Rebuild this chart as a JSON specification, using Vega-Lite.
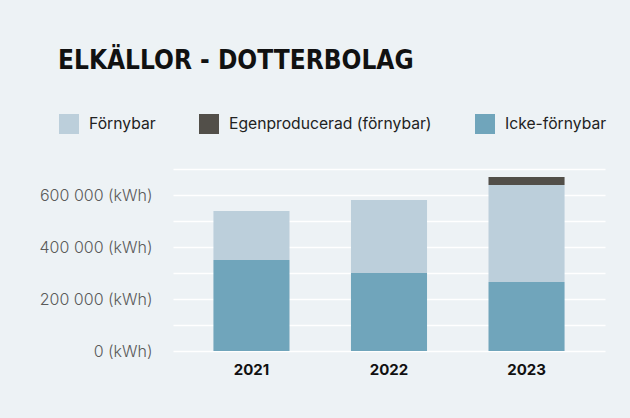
{
  "$schema": "https://vega.github.io/schema/vega-lite/v6.json",
  "width": 432,
  "height": 182,
  "autosize": "none",
  "padding": {"left": 173, "top": 169, "right": 25, "bottom": 67},
  "background": "#edf2f5",
  "title": {
    "text": "ELKÄLLOR - DOTTERBOLAG",
    "anchor": "start",
    "frame": "group",
    "orient": "top",
    "dx": -115,
    "offset": 40,
    "font": "DejaVu Sans Condensed, DejaVu Sans, sans-serif",
    "fontSize": 26,
    "fontWeight": "bold",
    "color": "#111111"
  },
  "data": {
    "values": [
      {"year": "2021", "type": "Icke-förnybar", "value": 350000, "ord": 1},
      {"year": "2021", "type": "Förnybar", "value": 188000, "ord": 2},
      {"year": "2021", "type": "Egenproducerad (förnybar)", "value": 0, "ord": 3},
      {"year": "2022", "type": "Icke-förnybar", "value": 300000, "ord": 1},
      {"year": "2022", "type": "Förnybar", "value": 281000, "ord": 2},
      {"year": "2022", "type": "Egenproducerad (förnybar)", "value": 0, "ord": 3},
      {"year": "2023", "type": "Icke-förnybar", "value": 265000, "ord": 1},
      {"year": "2023", "type": "Förnybar", "value": 373000, "ord": 2},
      {"year": "2023", "type": "Egenproducerad (förnybar)", "value": 31000, "ord": 3}
    ]
  },
  "mark": {"type": "bar"},
  "encoding": {
    "x": {
      "field": "year",
      "type": "nominal",
      "scale": {"paddingInner": 0.447, "paddingOuter": 0.294},
      "axis": {
        "title": null,
        "labelAngle": 0,
        "domain": false,
        "ticks": false,
        "labelFont": "Inter",
        "labelFontSize": 15,
        "labelFontWeight": "bold",
        "labelColor": "#111111",
        "labelPadding": 11
      }
    },
    "y": {
      "field": "value",
      "type": "quantitative",
      "stack": "zero",
      "scale": {"domain": [0, 700000], "nice": false},
      "axis": {
        "title": null,
        "values": [0, 100000, 200000, 300000, 400000, 500000, 600000, 700000],
        "labelExpr": "datum.value % 200000 == 0 && datum.value < 700000 ? replace(format(datum.value, ','), ',', ' ') + ' (kWh)' : ''",
        "domain": false,
        "ticks": false,
        "grid": true,
        "gridColor": "#ffffff",
        "gridWidth": 1.5,
        "labelFont": "Inter",
        "labelFontSize": 16,
        "labelFontWeight": 300,
        "labelColor": "#5a5a5a",
        "labelPadding": 21
      }
    },
    "color": {
      "field": "type",
      "type": "nominal",
      "scale": {
        "domain": ["Förnybar", "Egenproducerad (förnybar)", "Icke-förnybar"],
        "range": ["#bccfdb", "#524f49", "#70a5bb"]
      },
      "legend": {
        "title": null,
        "orient": "none",
        "direction": "horizontal",
        "legendX": -114,
        "legendY": -55,
        "symbolType": "square",
        "symbolSize": 400,
        "symbolStrokeWidth": 0,
        "symbolOpacity": 1,
        "labelFont": "Inter",
        "labelFontSize": 15.7,
        "labelColor": "#222222",
        "labelOffset": 10,
        "columnPadding": 43,
        "labelLimit": 300
      }
    },
    "order": {"field": "ord", "type": "quantitative"}
  },
  "config": {
    "view": {"stroke": null},
    "axis": {"gridColor": "#ffffff"}
  }
}
